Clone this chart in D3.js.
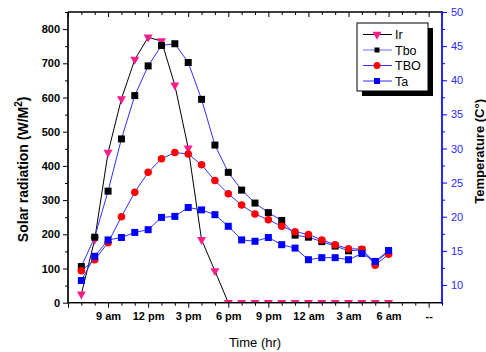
<!DOCTYPE html>
<html>
<head>
<meta charset="utf-8">
<script src="https://cdn.jsdelivr.net/npm/d3@7"></script>
<style>
  html, body { margin: 0; padding: 0; background: #fff; }
  svg { display: block; font-family: Arial, "Liberation Sans", sans-serif; }
</style>
</head>
<body>
<svg id="chart" width="486" height="352"></svg>
<script>
// Hours of the measurement day (7 = 7 am, 24 = midnight, 30 = 6 am next day)
const hours = [7, 8, 9, 10, 11, 12, 13, 14, 15, 16, 17, 18, 19, 20, 21, 22, 23, 24, 25, 26, 27, 28, 29, 30];

// Solar radiation, W/m²
const ir = [25, 185, 439, 596, 711, 776, 765, 636, 452, 184, 93, 0, 0, 0, 0, 0, 0, 0, 0, 0, 0, 0, 0, 0];

// Temperatures, °C
const tbo = [12.7, 17.0, 23.75, 31.4, 37.75, 42.1, 45.1, 45.35, 42.6, 37.2, 30.5, 26.5, 23.9, 22.0, 20.6, 19.45, 17.3, 17.0, 16.35, 15.7, 15.0, 15.15, 13.3, 14.9];
const tboUpper = [12.1, 13.7, 16.2, 20.0, 23.6, 26.5, 28.5, 29.4, 29.2, 27.6, 25.3, 23.35, 21.7, 20.4, 19.55, 18.6, 17.8, 17.4, 16.6, 15.9, 15.3, 15.25, 12.9, 14.5];
const ta = [10.65, 14.2, 16.6, 16.95, 17.7, 18.1, 19.9, 20.05, 21.35, 21.0, 20.3, 18.6, 16.6, 16.4, 16.95, 15.9, 15.4, 13.7, 14.0, 14.0, 13.7, 14.6, 13.45, 15.05];

// Axis ticks
const xMajorTicks = [6, 9, 12, 15, 18, 21, 24, 27, 30, 33];
const xTickLabels = ["", "9 am", "12 pm", "3 pm", "6 pm", "9 pm", "12 am", "3 am", "6 am", "--"];
const leftTicks = [0, 100, 200, 300, 400, 500, 600, 700, 800];
const rightTicks = [10, 15, 20, 25, 30, 35, 40, 45, 50];

const svg = d3.select("#chart");
const L = 68, R = 442, T = 12, B = 302.7;

const x = d3.scaleLinear().domain([6, 34]).range([L, R]);
const yL = d3.scaleLinear().domain([0, 850]).range([B, T]);
const yR = d3.scaleLinear().domain([7.4, 50]).range([B, T]);

const blue = "#0000ff", lineBlue = "#3030ff", pink = "#fa1e8c";

// Clip marks to the plot frame
svg.append("defs").append("clipPath").attr("id", "plotClip")
  .append("rect").attr("x", L).attr("y", T).attr("width", R - L).attr("height", B - T);

const plot = svg.append("g").attr("clip-path", "url(#plotClip)");

// Marker shapes
const triDown = "M-4.5,-2.7L4.5,-2.7L0,5.3Z";
function drawMarker(g, kind, color, size) {
  if (kind === "tri") {
    g.append("path").attr("d", triDown).attr("fill", color);
  } else if (kind === "square") {
    g.append("rect").attr("x", -size / 2).attr("y", -size / 2).attr("width", size).attr("height", size).attr("fill", color);
  } else {
    g.append("circle").attr("r", size / 2).attr("fill", color);
  }
}

const series = [
  { name: "Ir", values: ir, y: yL, line: "#000", marker: "tri", color: pink, size: 9 },
  { name: "Tbo", values: tbo, y: yR, line: lineBlue, marker: "square", color: "#000", size: 7 },
  { name: "TBO", values: tboUpper, y: yR, line: lineBlue, marker: "circle", color: "#ff0000", size: 7.5 },
  { name: "Ta", values: ta, y: yR, line: lineBlue, marker: "square", color: blue, size: 7 }
];

series.forEach(s => {
  const pts = hours.map((h, i) => [h, s.values[i]]);
  const line = d3.line().x(d => x(d[0])).y(d => s.y(d[1]));
  plot.append("path").datum(pts).attr("d", line)
    .attr("fill", "none").attr("stroke", s.line).attr("stroke-width", 1);
  pts.forEach(d => {
    const g = plot.append("g").attr("transform", `translate(${x(d[0])},${s.y(d[1])})`);
    drawMarker(g, s.marker, s.color, s.size);
  });
});

// Bottom axis
const xMinor = d3.range(6, 35).filter(h => !xMajorTicks.includes(h));
const bottomAxis = svg.append("g").attr("transform", `translate(0,${B})`);
bottomAxis.call(d3.axisBottom(x).tickValues(xMajorTicks).tickSize(5).tickPadding(5)
  .tickFormat((d, i) => xTickLabels[i]));
bottomAxis.append("g").call(d3.axisBottom(x).tickValues(xMinor).tickSize(3).tickFormat(""));

// Top axis (ticks point into the frame)
const topAxis = svg.append("g").attr("transform", `translate(0,${T})`);
topAxis.call(d3.axisBottom(x).tickValues(xMajorTicks).tickSize(5).tickFormat(""));
topAxis.append("g").call(d3.axisBottom(x).tickValues(xMinor).tickSize(3).tickFormat(""));

// Left axis
const leftAxis = svg.append("g").attr("transform", `translate(${L},0)`);
leftAxis.call(d3.axisLeft(yL).tickValues(leftTicks).tickSize(5).tickPadding(3));
leftAxis.append("g").call(d3.axisLeft(yL).tickValues(d3.range(50, 851, 100)).tickSize(3).tickFormat(""));

// Right axis
const rightAxis = svg.append("g").attr("transform", `translate(${R},0)`);
rightAxis.call(d3.axisRight(yR).tickValues(rightTicks).tickSize(5).tickPadding(4));
rightAxis.append("g").call(d3.axisRight(yR).tickValues(d3.range(12.5, 50, 5)).tickSize(3).tickFormat(""));

[bottomAxis, topAxis, leftAxis].forEach(g => {
  g.selectAll("path.domain").attr("stroke", "#000").attr("stroke-width", 1.2);
  g.selectAll("line").attr("stroke", "#000");
});
rightAxis.selectAll("path.domain").attr("stroke", blue).attr("stroke-width", 1.2);
rightAxis.selectAll("line").attr("stroke", blue);
topAxis.selectAll("path.domain").attr("d", `M${L},0H${R}`);
bottomAxis.selectAll("path.domain").attr("d", `M${L},0H${R}`);
leftAxis.selectAll("path.domain").attr("d", `M0,${T}V${B}`);
rightAxis.selectAll("path.domain").attr("d", `M0,${T - 1}V${B + 1}`);

const fontStack = "Arial, 'Liberation Sans', sans-serif";
bottomAxis.selectAll("text").attr("font-size", 11).attr("font-weight", "bold").attr("fill", "#000")
  .attr("font-family", fontStack);
leftAxis.selectAll("text").attr("font-size", 11).attr("font-weight", "bold").attr("fill", "#000")
  .attr("font-family", fontStack);
rightAxis.selectAll("text").attr("font-size", 11).attr("fill", "#2a2aff")
  .attr("font-family", fontStack);

// Axis titles
const yTitle = svg.append("text")
  .attr("transform", `translate(28,${(T + B) / 2 + 12}) rotate(-90)`)
  .attr("text-anchor", "middle").attr("font-size", 14).attr("font-weight", "bold");
yTitle.append("tspan").text("Solar radiation (W/M");
yTitle.append("tspan").attr("font-size", 10).attr("dy", -6).text("2");
yTitle.append("tspan").attr("dy", 6).text(")");

svg.append("text")
  .attr("transform", `translate(484,${(T + B) / 2 - 6}) rotate(-90)`)
  .attr("text-anchor", "middle").attr("font-size", 13).attr("font-weight", "bold")
  .text("Temperature (C°)");

svg.append("text").attr("x", 255).attr("y", 347)
  .attr("text-anchor", "middle").attr("font-size", 13).text("Time (hr)");

// Legend
const lg = svg.append("g").attr("transform", "translate(357,23)");
lg.append("rect").attr("x", 5).attr("y", 5).attr("width", 71).attr("height", 68).attr("fill", "#000");
lg.append("rect").attr("x", 0).attr("y", 0).attr("width", 71).attr("height", 68)
  .attr("fill", "#fff").attr("stroke", "#000").attr("stroke-width", 1);
const legendMarks = [
  { line: "#000", size: 9 },
  { line: "#6a6aff", size: 5 },
  { line: lineBlue, size: 7 },
  { line: lineBlue, size: 6 }
];
series.forEach((s, i) => {
  const yy = 11.5 + i * 15.5;
  lg.append("line").attr("x1", 6).attr("x2", 35).attr("y1", yy).attr("y2", yy)
    .attr("stroke", legendMarks[i].line).attr("stroke-width", 1);
  const g = lg.append("g").attr("transform", `translate(20,${yy})`);
  drawMarker(g, s.marker, s.color, legendMarks[i].size);
  lg.append("text").attr("x", 38).attr("y", yy + 4.5).attr("font-size", 12.5).text(s.name);
});
</script>
</body>
</html>
